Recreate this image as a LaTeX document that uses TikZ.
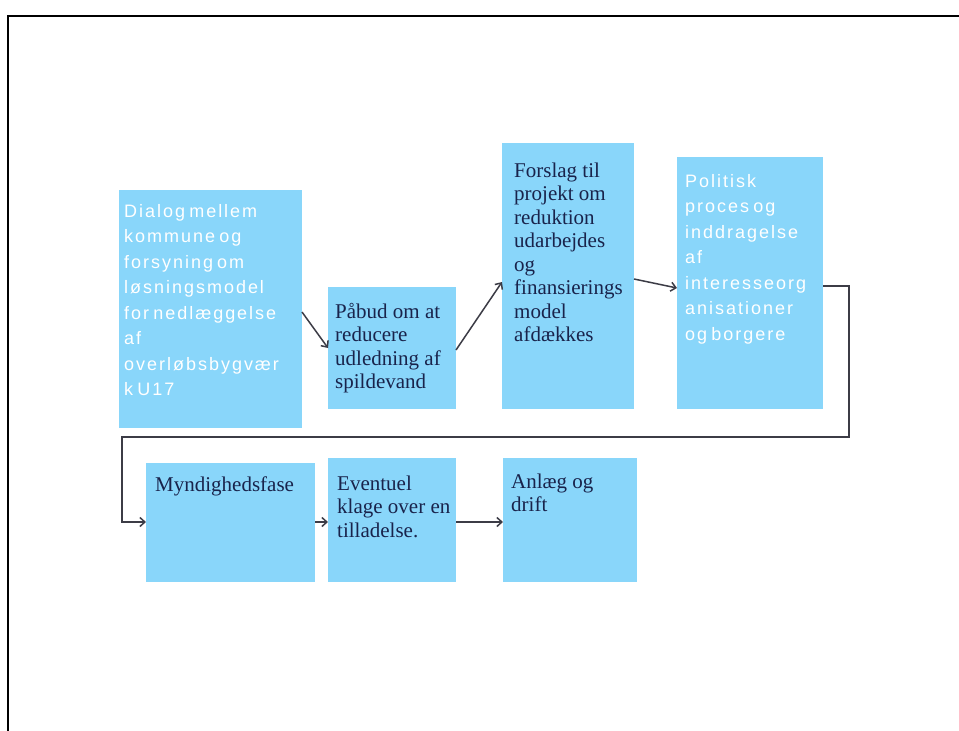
\documentclass[tikz,border=0pt]{standalone}
\usepackage{fontspec}
\setmainfont{Liberation Serif}
\newfontfamily\sansf[LetterSpace=11,WordSpace=0.6]{Liberation Sans}
\usetikzlibrary{arrows.meta,calc}
\definecolor{boxblue}{RGB}{137,214,250}
\definecolor{navy}{RGB}{25,35,75}
\definecolor{linegray}{RGB}{60,60,70}
\tikzset{
  box/.style={fill=boxblue, draw=none, inner sep=0pt, outer sep=0pt, anchor=north west},
  serift/.style={anchor=north west, inner sep=0pt, align=left, text=navy, font=\fontsize{21}{23.5}\selectfont},
  sanst/.style={anchor=north west, inner sep=0pt, align=left, text=white, font=\sansf\fontsize{18}{25.5}\selectfont},
  conn/.style={draw=linegray, line width=1.5pt, -{Straight Barb[length=5pt,width=9pt]}}
}
\newcommand{\sstrut}{\rule{0pt}{17pt}}
\newcommand{\astrut}{\rule{0pt}{14pt}}
\begin{document}
\begin{tikzpicture}[x=1pt,y=-1pt]
\useasboundingbox (0,0) rectangle (959,731);
\fill[white] (0,0) rectangle (959,731);
% frame
\draw[line width=2pt, black] (8,731) -- (8,16) -- (959,16);
% boxes
\node[box, minimum width=183pt, minimum height=238pt] (b1) at (119,190) {};
\node[box, minimum width=128pt, minimum height=122pt] (b2) at (328,287) {};
\node[box, minimum width=132pt, minimum height=266pt] (b3) at (502,143) {};
\node[box, minimum width=146pt, minimum height=252pt] (b4) at (677,157) {};
\node[box, minimum width=169pt, minimum height=119pt] (b5) at (146,463) {};
\node[box, minimum width=128pt, minimum height=124pt] (b6) at (328,458) {};
\node[box, minimum width=134pt, minimum height=124pt] (b7) at (503,458) {};
% texts
\node[sanst] (t1) at (124,203) {\astrut Dialog mellem\\kommune og\\forsyning om\\løsningsmodel\\for nedlæggelse\\af\\overløbsbygvær\\k U17};
\node[serift] (t2) at (335,301) {\sstrut Påbud om at\\reducere\\udledning af\\spildevand};
\node[serift] (t3) at (514,160) {\sstrut Forslag til\\projekt om\\reduktion\\udarbejdes\\og\\finansierings\\model\\afdækkes};
\node[sanst] (t4) at (685,173) {\astrut Politisk\\proces og\\inddragelse\\af\\interesseorg\\anisationer\\og borgere};
\node[serift] (t5) at (155,474) {\sstrut Myndighedsfase};
\node[serift] (t6) at (337,473) {\sstrut Eventuel\\klage over en\\tilladelse.};
\node[serift] (t7) at (511,471) {\sstrut Anlæg og\\drift};
% connectors
\draw[conn] (b1.east |- 0,312) -- (b2.west |- 0,348);
\draw[conn] (b2.east |- 0,350) -- (b3.west |- 0,282);
\draw[conn] (b3.east |- 0,279) -- (b4.west |- 0,288);
\coordinate (c1) at (849,286);
\coordinate (c2) at (849,437);
\coordinate (c3) at (122,437);
\coordinate (c4) at (122,522);
\draw[conn] (b4.east |- c1) -- (c1) -- (c2) -- (c3) -- (c4) -- (b5.west |- c4);
\draw[conn] (b5.east |- 0,522) -- (b6.west |- 0,522);
\draw[conn] (b6.east |- 0,522) -- (b7.west |- 0,522);
\end{tikzpicture}
\end{document}
